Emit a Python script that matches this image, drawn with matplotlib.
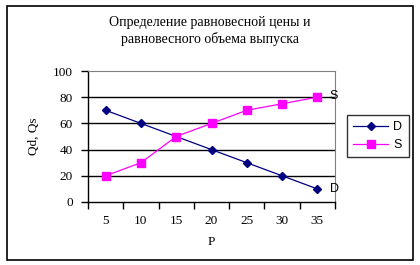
import matplotlib
matplotlib.use("Agg")
import matplotlib.pyplot as plt
from matplotlib.patches import Rectangle

title = "Определение равновесной цены и\nравновесного объема выпуска"
prices = ["5", "10", "15", "20", "25", "30", "35"]
demand = [70, 60, 50, 40, 30, 20, 10]
supply = [20, 30, 50, 60, 70, 75, 80]
y_ticks = [0, 20, 40, 60, 80, 100]

W, H = 420, 265
fig = plt.figure(figsize=(W / 100, H / 100), dpi=100)
fig.patch.set_facecolor("white")

# outer chart border
fig.patches.append(Rectangle((7 / W, 1 - 260 / H), 406 / W, 254 / H,
                             transform=fig.transFigure, fill=False,
                             edgecolor="black", linewidth=1.2))

ax = fig.add_axes([88 / W, 1 - 202 / H, (335 - 88) / W, (202 - 71) / H])
x = list(range(len(prices)))

serif = "Liberation Serif"
sans = "Liberation Sans"

lD, = ax.plot(x, demand, color="#000080", marker="D", markersize=4,
              linewidth=0.9, label="D")
lS, = ax.plot(x, supply, color="#FF00FF", marker="s", markersize=6,
              linewidth=0.9, label="S")

ax.set_xlim(-0.5, len(prices) - 0.5)
ax.set_ylim(0, 100)
ax.set_yticks(y_ticks)
ax.set_yticklabels([str(v) for v in y_ticks], fontfamily=serif, fontsize=9.5)
ax.set_xticks(x)
ax.set_xticklabels(prices, fontfamily=serif, fontsize=9.5)
ax.set_xticks([i - 0.5 for i in range(len(prices) + 1)], minor=True)
ax.tick_params(axis="x", which="major", length=0, pad=9)
ax.tick_params(axis="x", which="minor", length=5, width=1, direction="out")
ax.tick_params(axis="y", length=5, width=1, direction="out", pad=6)

for v in y_ticks[1:-1]:
    ax.axhline(v, color="black", linewidth=1, zorder=0.5)

ax.spines["top"].set_color("#808080")
ax.spines["right"].set_color("#808080")
ax.spines["left"].set_linewidth(1)
ax.spines["bottom"].set_linewidth(1)

ax.set_xlabel("P", fontfamily=serif, fontsize=9.5, labelpad=7)
ax.set_ylabel("Qd, Qs", fontfamily=serif, fontsize=9.5, labelpad=9)

# end labels
ax.annotate("S", (x[-1], supply[-1]), xytext=(9, 1), textcoords="offset points",
            fontfamily=sans, fontsize=9, va="center", ha="left")
ax.annotate("D", (x[-1], demand[-1]), xytext=(9, 0), textcoords="offset points",
            fontfamily=sans, fontsize=9, va="center", ha="left")

fig.text(210 / W, 1 - 31 / H, title, ha="center", va="center",
         fontfamily=serif, fontsize=10, linespacing=1.35)

leg = fig.legend(handles=[lD, lS], loc="upper left",
                 bbox_to_anchor=(347 / W, 1 - 115 / H),
                 prop={"family": sans, "size": 9}, frameon=True,
                 fancybox=False, edgecolor="black", handlelength=2.8,
                 borderpad=0.5, labelspacing=0.45, handletextpad=0.4,
                 borderaxespad=0)
leg.get_frame().set_linewidth(1)

fig.savefig("out.png", dpi=100)
